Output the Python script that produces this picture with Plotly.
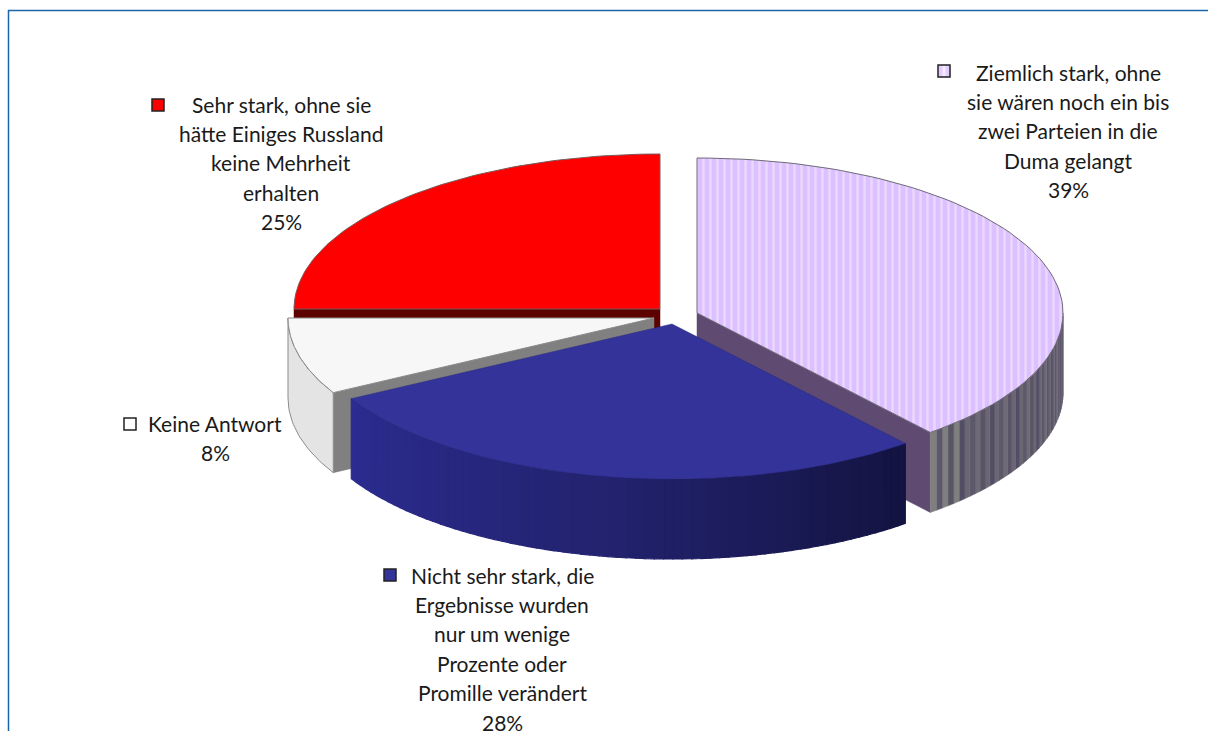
import numpy as np
import plotly.graph_objects as go

# values in percent, clockwise from 12 o'clock
categories = ["Ziemlich stark", "Nicht sehr stark", "Keine Antwort", "Sehr stark"]
percent = [39, 28, 8, 25]
label_lines = [
    ["Ziemlich stark, ohne", "sie wären noch ein bis", "zwei Parteien in die", "Duma gelangt", "39%"],
    ["Nicht sehr stark, die", "Ergebnisse wurden", "nur um wenige", "Prozente oder", "Promille verändert", "28%"],
    ["Keine Antwort", "8%"],
    ["Sehr stark, ohne sie", "hätte Einiges Russland", "keine Mehrheit", "erhalten", "25%"],
]

# pie geometry in page pixels
RX, RY, DEPTH = 366, 155, 80
apex = [(697, 313), (672, 324), (654, 318), (660, 309)]
label_x = [1068, 502, 215, 281]
label_y0 = [72, 575, 423, 104]
label_step = 29.4
key_pos = [(944, 71), (390, 575), (130, 424), (158, 105)]
key_colors = ["#e3ccff", "#333399", "#ffffff", "#ff0000"]

FONT = "Lato"
TEXT_SIZE = 21

# angle limits of each slice, from the values
ends = np.cumsum(percent) / sum(percent) * 2 * np.pi
starts = np.concatenate([[0], ends[:-1]])


def arc(i, a0, a1, dy=0, n=80):
    t = np.linspace(a0, a1, n)
    return apex[i][0] + RX * np.sin(t), apex[i][1] - RY * np.cos(t) + dy


def top(i):
    x, y = arc(i, starts[i], ends[i])
    return np.r_[apex[i][0], x, apex[i][0]], np.r_[apex[i][1], y, apex[i][1]]


def rim(i, a0, a1, n=12):
    x, y = arc(i, a0, a1, 0, n)
    xb, yb = arc(i, a1, a0, DEPTH, n)
    return np.r_[x, xb, x[0]], np.r_[y, yb, y[0]]


def cut(i, a):
    x, y = arc(i, a, a, 0, 1)
    ax, ay = apex[i]
    return [ax, x[0], x[0], ax, ax], [ay, y[0], y[0] + DEPTH, ay + DEPTH, ay]


fig = go.Figure()


def add_poly(x, y, fill, line=None, width=0, pattern=None):
    fig.add_trace(go.Scatter(
        x=x, y=y, mode="lines", fill="toself", fillcolor=fill,
        fillpattern=pattern,
        line=dict(color=line or fill, width=width),
        hoverinfo="skip", showlegend=False
    ))


# red slice at the back
add_poly(*cut(3, starts[3]), "#5c0000", "#5c0000", 0.5)
add_poly(*top(3), "#ff0000", "#7a5a5a", 1)

# white slice
add_poly(*cut(2, starts[2]), "#808080", "#808080", 0.5)
add_poly(*rim(2, starts[2], ends[2], 30), "#e4e4e4", "#8c8c8c", 1)
add_poly(*top(2), "#f7f7f7", "#8c8c8c", 1)

# purple slice: cut face, striped rim, striped top
add_poly(*cut(0, ends[0]), "#5f4a72", "#5f4a72", 0.5)
rim_colors = ["#6b6674", "#5a5566", "#6e6a76", "#5d586a", "#6b6674", "#534e64"]
rim_edges = np.linspace(np.pi / 2, ends[0], 42)
for k in range(len(rim_edges) - 1):
    c = "#7f7f7f" if k >= 36 and k % 2 == 0 else rim_colors[k % len(rim_colors)]
    add_poly(*rim(0, rim_edges[k], rim_edges[k + 1], 3), c, c, 0.6)
add_poly(*top(0), "#dcc0ff", "#6e6a78", 1,
         pattern=dict(shape="|", bgcolor="#dcc0ff", fgcolor="#f8f2ff", size=7, solidity=0.35))

# blue slice: rim shaded dark to the right
shade_left = np.array([0x2c, 0x2c, 0x90])
shade_mid = np.array([0x23, 0x23, 0x70])
shade_right = np.array([0x14, 0x14, 0x42])
blue_edges = np.linspace(starts[1], ends[1], 70)
for k in range(len(blue_edges) - 1):
    f = k / (len(blue_edges) - 2)
    # rim angles run clockwise, so the right end of the rim comes first
    if f < 0.5:
        rgb = shade_right + (shade_mid - shade_right) * (f / 0.5)
    else:
        rgb = shade_mid + (shade_left - shade_mid) * ((f - 0.5) / 0.5)
    c = "rgb(%d,%d,%d)" % tuple(rgb)
    add_poly(*rim(1, blue_edges[k], blue_edges[k + 1], 3), c, c, 1.2)
add_poly(*top(1), "#333399", "#2a2a80", 0.5)

# text labels, one annotation per line for the tall line pitch
for lines, lx, ly in zip(label_lines, label_x, label_y0):
    for n, line in enumerate(lines):
        fig.add_annotation(
            x=lx, y=ly + n * label_step, text=line, showarrow=False,
            xanchor="center", yanchor="middle",
            font=dict(family=FONT, size=TEXT_SIZE, color="#1a1a1a")
        )

# legend keys next to the labels
shapes = []
for (kx, ky), kc in zip(key_pos, key_colors):
    shapes.append(dict(type="rect", x0=kx - 6, x1=kx + 6, y0=ky - 6, y1=ky + 6,
                       fillcolor=kc, line=dict(color="#222222", width=1.5), layer="above"))
kx, ky = key_pos[0]
shapes.append(dict(type="line", x0=kx, x1=kx, y0=ky - 5, y1=ky + 5,
                   line=dict(color="#f4ecff", width=3), layer="above"))

# frame: top and left only, the page cuts off the rest
shapes.append(dict(type="line", x0=8, x1=1208, y0=10.5, y1=10.5, line=dict(color="#1a66a8", width=1.5)))
shapes.append(dict(type="line", x0=8.5, x1=8.5, y0=10, y1=731, line=dict(color="#1a66a8", width=1.5)))

fig.update_layout(
    width=1208, height=731,
    margin=dict(l=0, r=0, t=0, b=0),
    paper_bgcolor="white", plot_bgcolor="white",
    showlegend=False,
    shapes=shapes,
    xaxis=dict(range=[0, 1208], visible=False, fixedrange=True),
    yaxis=dict(range=[731, 0], visible=False, fixedrange=True),
)
# body margin would push the figure 8px in and clip it
fig.write_html("out.html", config={"displayModeBar": False},
               post_script="document.body.style.margin='0';")
